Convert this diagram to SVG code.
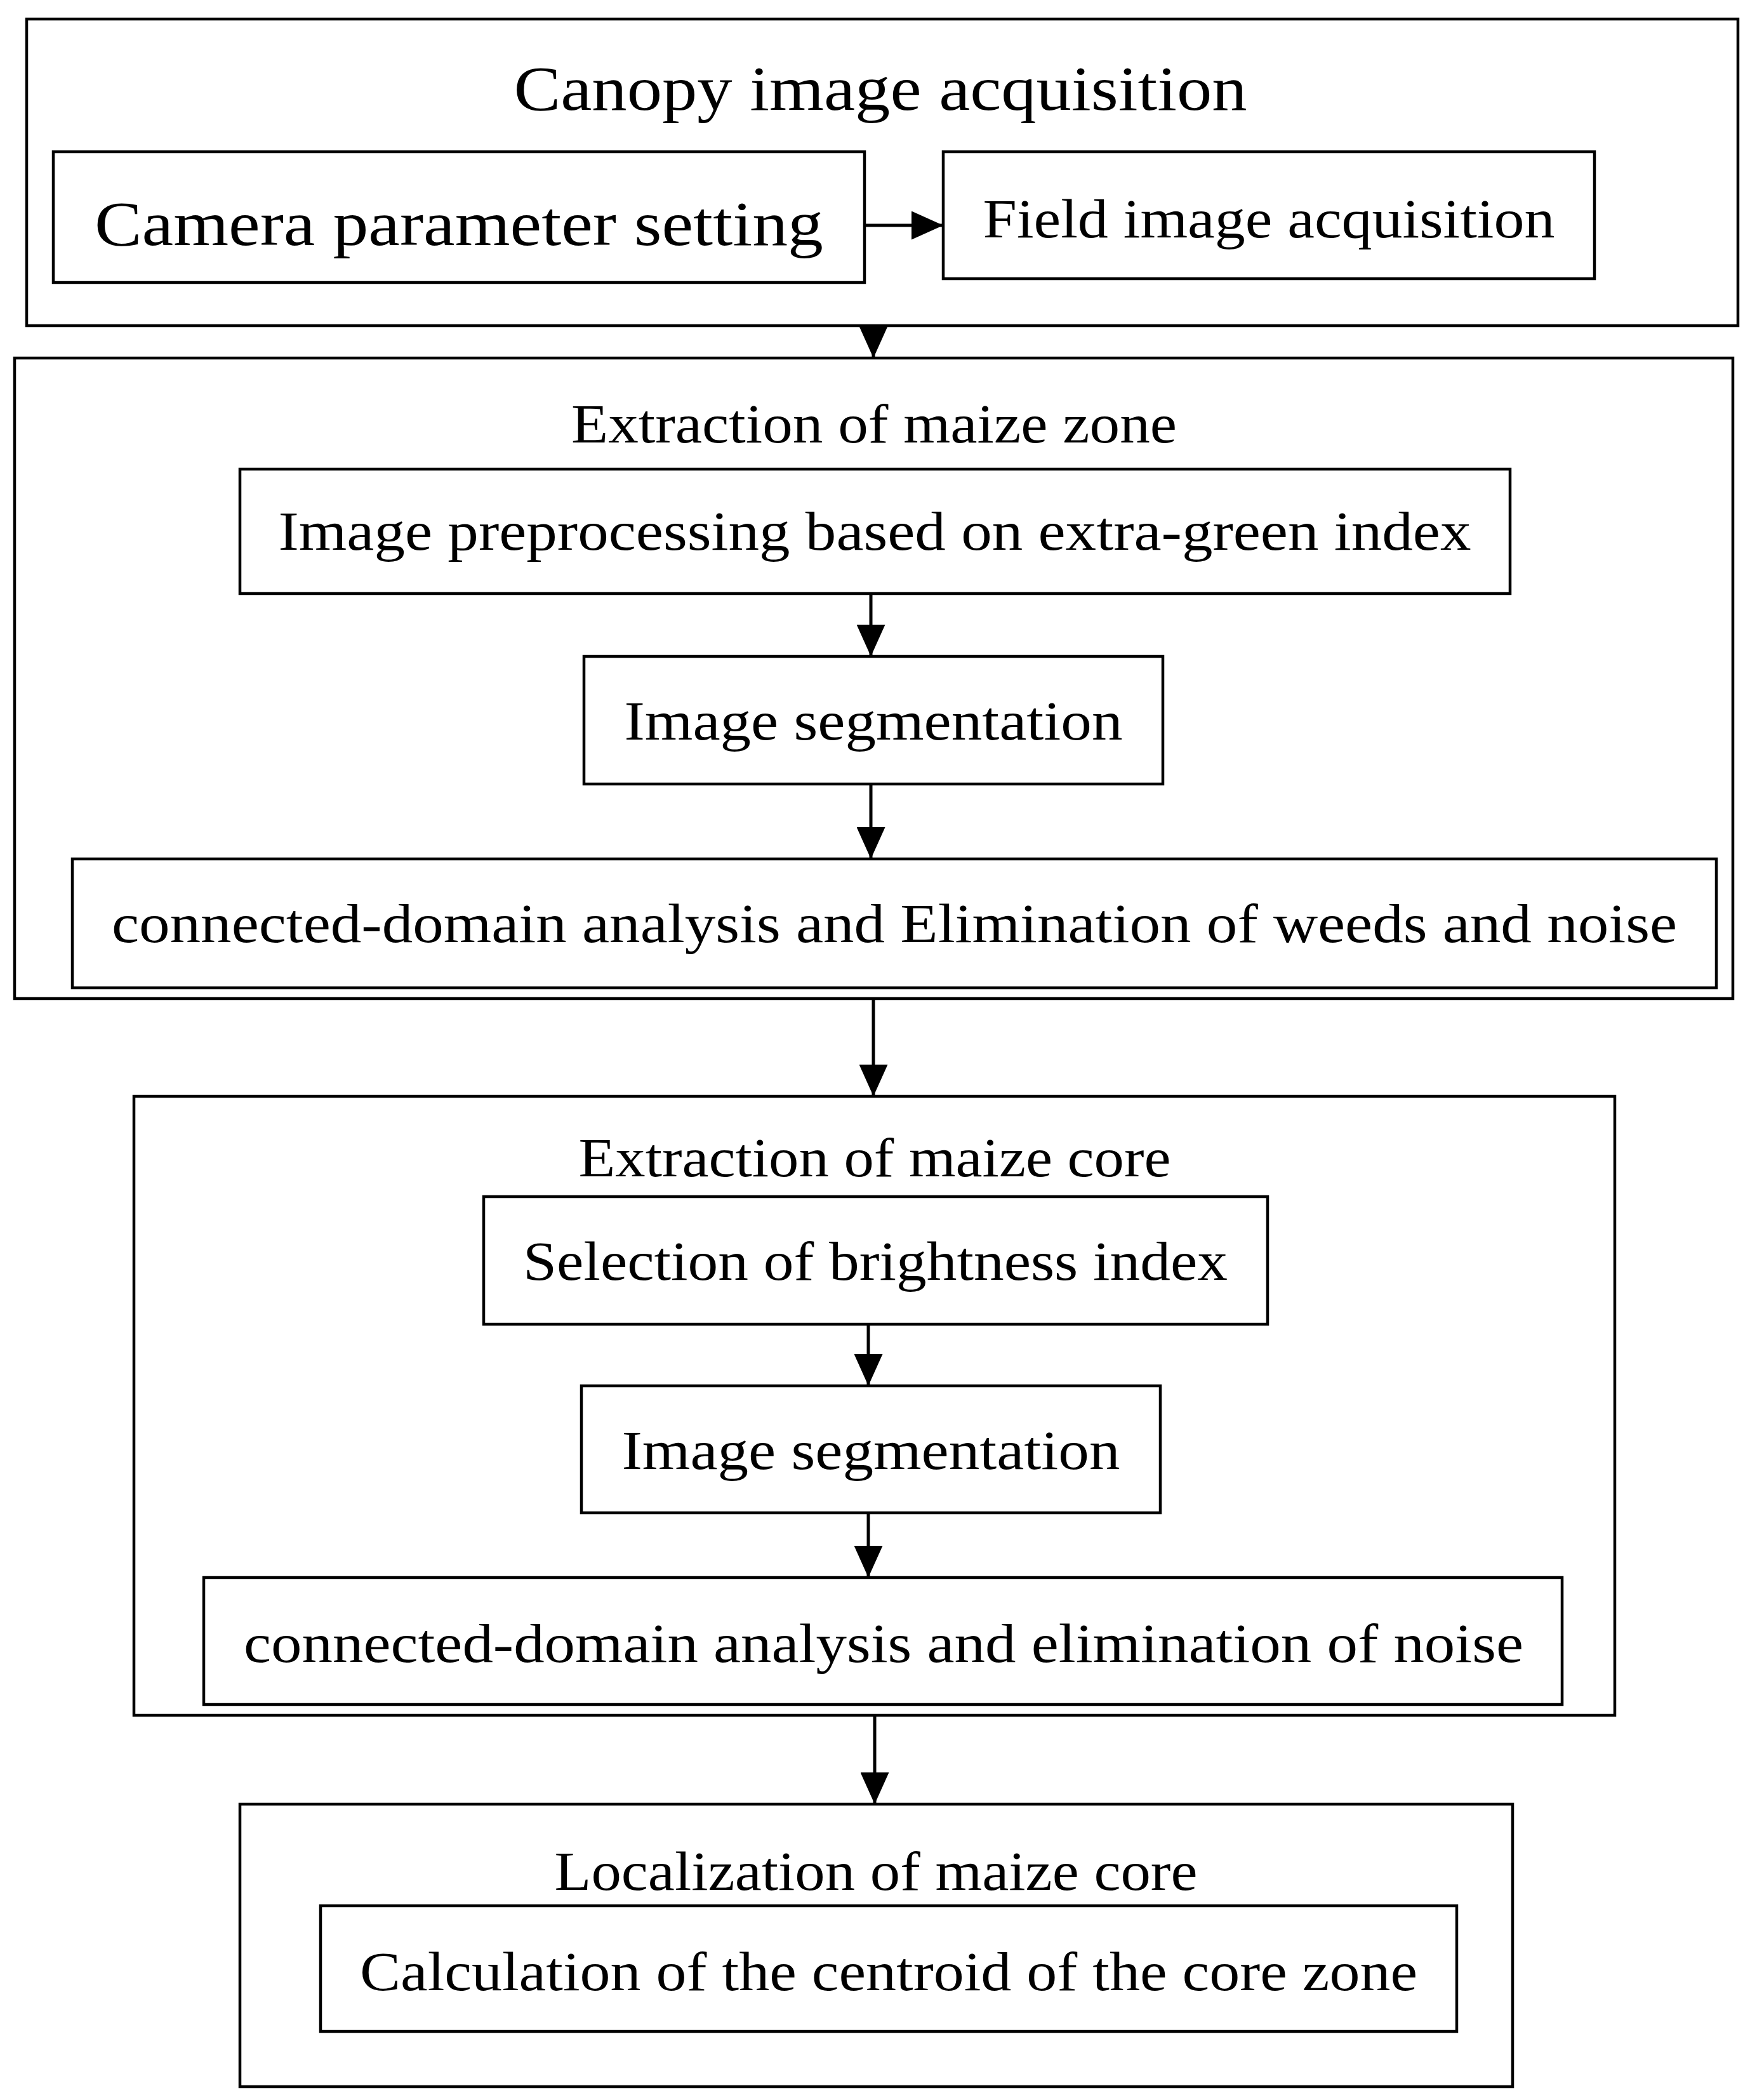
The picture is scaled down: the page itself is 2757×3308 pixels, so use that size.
<svg xmlns="http://www.w3.org/2000/svg" width="2757" height="3308" viewBox="0 0 2757 3308">
<style>
rect{fill:none;stroke:#000;stroke-width:4.5}
text{font-family:"Liberation Serif",serif;fill:#000;text-anchor:middle;font-size:86px}
.big{font-size:100px}
.c line{stroke:#000;stroke-width:5}
</style>
<defs><marker id="a" markerWidth="10" markerHeight="9" refX="10" refY="4.5" orient="auto" markerUnits="strokeWidth"><path d="M0,0L10,4.5L0,9Z" fill="#000"/></marker></defs>
<rect width="2757" height="3308" fill="#fff" style="fill:#fff;stroke:none"/>
<g id="n1"><rect x="42" y="30" width="2696" height="483"/><text class="big" x="1387" y="173" textLength="1155" lengthAdjust="spacingAndGlyphs">Canopy image acquisition</text></g>
<g id="n1a"><rect x="84" y="239" width="1278" height="206"/><text class="big" x="723" y="386" textLength="1148" lengthAdjust="spacingAndGlyphs">Camera parameter setting</text></g>
<g id="n1b"><rect x="1486" y="239" width="1026" height="200"/><text x="1999" y="374" textLength="901" lengthAdjust="spacingAndGlyphs">Field image acquisition</text></g>
<g id="n2"><rect x="23" y="564" width="2707" height="1009"/><text x="1377" y="697" textLength="954" lengthAdjust="spacingAndGlyphs">Extraction of maize zone</text></g>
<g id="n2a"><rect x="378" y="739" width="2001" height="196"/><text x="1378" y="866" textLength="1879" lengthAdjust="spacingAndGlyphs">Image preprocessing based on extra-green index</text></g>
<g id="n2b"><rect x="920" y="1034" width="912" height="201"/><text x="1376" y="1165" textLength="785" lengthAdjust="spacingAndGlyphs">Image segmentation</text></g>
<g id="n2c"><rect x="114" y="1353" width="2590" height="203"/><text x="1409" y="1484" textLength="2466" lengthAdjust="spacingAndGlyphs">connected-domain analysis and Elimination of weeds and noise</text></g>
<g id="n3"><rect x="211" y="1727" width="2333" height="975"/><text x="1378" y="1853" textLength="933" lengthAdjust="spacingAndGlyphs">Extraction of maize core</text></g>
<g id="n3a"><rect x="762" y="1885" width="1235" height="201"/><text x="1379" y="2016" textLength="1110" lengthAdjust="spacingAndGlyphs">Selection of brightness index</text></g>
<g id="n3b"><rect x="916" y="2183" width="912" height="200"/><text x="1372" y="2314" textLength="785" lengthAdjust="spacingAndGlyphs">Image segmentation</text></g>
<g id="n3c"><rect x="321" y="2485" width="2140" height="200"/><text x="1392" y="2618" textLength="2016" lengthAdjust="spacingAndGlyphs">connected-domain analysis and elimination of noise</text></g>
<g id="n4"><rect x="378" y="2842" width="2005" height="445"/><text x="1380" y="2977" textLength="1013" lengthAdjust="spacingAndGlyphs">Localization of maize core</text></g>
<g id="n4a"><rect x="505" y="3002" width="1790" height="198"/><text x="1400" y="3135" textLength="1666" lengthAdjust="spacingAndGlyphs">Calculation of the centroid of the core zone</text></g>
<g class="c" id="connectors">
<line x1="1362" y1="355" x2="1486" y2="355" marker-end="url(#a)"/>
<line x1="1376" y1="513" x2="1376" y2="564" marker-end="url(#a)"/>
<line x1="1372" y1="935" x2="1372" y2="1034" marker-end="url(#a)"/>
<line x1="1372" y1="1235" x2="1372" y2="1353" marker-end="url(#a)"/>
<line x1="1376" y1="1573" x2="1376" y2="1727" marker-end="url(#a)"/>
<line x1="1368" y1="2086" x2="1368" y2="2183" marker-end="url(#a)"/>
<line x1="1368" y1="2383" x2="1368" y2="2485" marker-end="url(#a)"/>
<line x1="1378" y1="2702" x2="1378" y2="2842" marker-end="url(#a)"/>
</g>
</svg>
